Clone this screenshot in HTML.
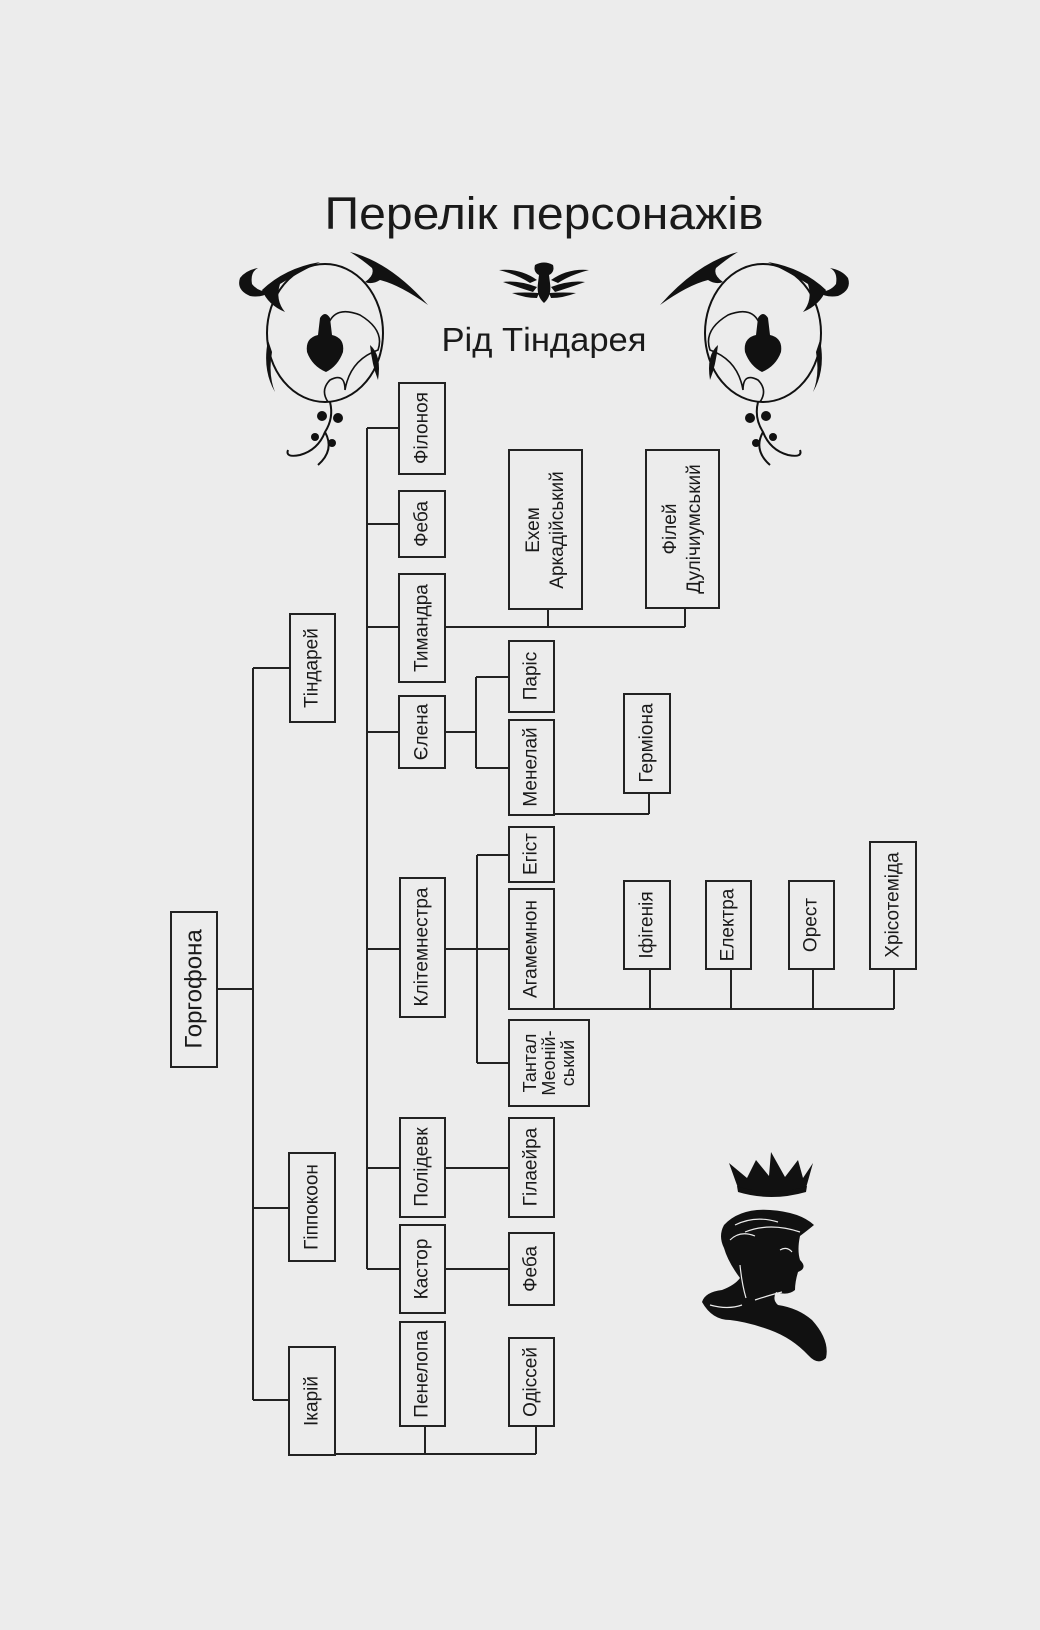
<!DOCTYPE html>
<html><head><meta charset="utf-8"><style>
html,body{margin:0;padding:0;background:#ececec;}
svg{display:block}
text{font-family:"Liberation Sans",sans-serif;fill:#1a1a1a}
</style></head><body>
<svg width="1040" height="1630" viewBox="0 0 1040 1630" xmlns="http://www.w3.org/2000/svg">
<rect width="1040" height="1630" fill="#ececec"/>
<text x="544" y="229" font-size="45" text-anchor="middle" textLength="439" lengthAdjust="spacingAndGlyphs">Перелік персонажів</text>
<text x="544" y="351" font-size="33" text-anchor="middle" textLength="205" lengthAdjust="spacingAndGlyphs">Рід Тіндарея</text>

<!-- center ornament -->
<g fill="#111">
<path d="M535 265 Q544 260 553 265 Q555 272 549 275 L550 283 Q552 296 544 303 Q536 296 538 283 L539 275 Q533 272 535 265Z"/>
<path d="M537 280 Q520 268 499 270 Q518 275 530 283Z M537 287 Q518 280 503 282 Q520 288 533 292Z M539 293 Q524 292 512 293 Q525 298 537 298Z"/>
<path d="M551 280 Q568 268 589 270 Q570 275 558 283Z M551 287 Q570 280 585 282 Q568 288 555 292Z M549 293 Q564 292 576 293 Q563 298 551 298Z"/>
</g>

<!-- left ornament -->
<g id="orn">
<ellipse cx="325" cy="333" rx="58" ry="69" fill="none" stroke="#111" stroke-width="2"/>
<path d="M328 402 Q320 390 330 380 Q345 372 345 390 Q350 360 378 350 Q385 330 360 315 Q335 305 328 325" fill="none" stroke="#111" stroke-width="1.6"/>
<g fill="#111">
<path d="M320 318 Q325 310 330 318 L332 335 Q345 338 343 352 Q338 366 326 372 Q312 366 307 352 Q305 338 318 335Z"/>
<path d="M240 278 Q236 290 250 296 Q262 298 270 292 Q258 292 252 284 Q250 272 258 268 Q246 270 240 278Z"/>
<path d="M262 290 Q285 268 320 262 Q300 272 280 284 Q275 300 285 312 Q268 305 262 290Z"/>
<path d="M350 252 Q390 262 428 305 Q400 285 380 280 Q372 285 365 282 Q375 275 372 268 Q360 258 350 252Z"/>
<path d="M268 340 Q262 370 275 392 Q268 375 272 352Z"/>
<path d="M370 345 Q382 355 378 380 Q372 365 370 345Z"/>
<circle cx="322" cy="416" r="5"/><circle cx="338" cy="418" r="5"/><circle cx="315" cy="437" r="4"/><circle cx="332" cy="443" r="4"/>
</g>
<path d="M330 402 Q334 418 325 432 Q318 450 300 455 Q285 458 288 450 M325 432 Q335 450 318 465" fill="none" stroke="#111" stroke-width="2"/>
</g>
<use href="#orn" transform="translate(1088 0) scale(-1 1)"/>

<!-- connectors -->
<g stroke="#222" stroke-width="2" fill="none">
<path d="M217 989 H253 M253 668 V1400 M253 668 H290 M253 1208 H289 M253 1400 H289"/>
<path d="M335 1454 H536 M425 1426 V1454 M536 1426 V1454"/>
<path d="M367 428 V1269 M367 428 H399 M367 524 H399 M367 627 H399 M367 732 H399 M367 949 H400 M367 1168 H400 M367 1269 H400"/>
<path d="M445 627 H685 M548 609 V627 M685 608 V627"/>
<path d="M445 732 H476 M476 677 V768 M476 677 H509 M476 768 H509 M554 814 H649 M649 793 V814"/>
<path d="M445 949 H509 M477 855 V1063 M477 855 H509 M477 1063 H509"/>
<path d="M554 1009 H894 M650 969 V1009 M731 969 V1009 M813 969 V1009 M894 969 V1009"/>
<path d="M445 1168 H509 M445 1269 H509"/>
</g>

<!-- boxes -->
<g stroke="#222" stroke-width="2" fill="none">
<rect x="171" y="912" width="46" height="155"/>
<rect x="290" y="614" width="45" height="108"/>
<rect x="289" y="1153" width="46" height="108"/>
<rect x="289" y="1347" width="46" height="108"/>
<rect x="399" y="383" width="46" height="91"/>
<rect x="399" y="491" width="46" height="66"/>
<rect x="399" y="574" width="46" height="108"/>
<rect x="399" y="696" width="46" height="72"/>
<rect x="400" y="878" width="45" height="139"/>
<rect x="400" y="1118" width="45" height="99"/>
<rect x="400" y="1225" width="45" height="88"/>
<rect x="400" y="1322" width="45" height="104"/>
<rect x="509" y="450" width="73" height="159"/>
<rect x="646" y="450" width="73" height="158"/>
<rect x="509" y="641" width="45" height="71"/>
<rect x="509" y="720" width="45" height="95"/>
<rect x="624" y="694" width="46" height="99"/>
<rect x="509" y="827" width="45" height="55"/>
<rect x="509" y="889" width="45" height="120"/>
<rect x="509" y="1020" width="80" height="86"/>
<rect x="624" y="881" width="46" height="88"/>
<rect x="706" y="881" width="45" height="88"/>
<rect x="789" y="881" width="45" height="88"/>
<rect x="870" y="842" width="46" height="127"/>
<rect x="509" y="1118" width="45" height="99"/>
<rect x="509" y="1233" width="45" height="72"/>
<rect x="509" y="1338" width="45" height="88"/>
</g>

<!-- labels (rotated) -->
<g font-size="19" text-anchor="middle" dominant-baseline="central">
<text transform="translate(194 989) rotate(-90)" font-size="24">Горгофона</text>
<text transform="translate(312 668) rotate(-90)">Тіндарей</text>
<text transform="translate(312 1207) rotate(-90)">Гіппокоон</text>
<text transform="translate(312 1401) rotate(-90)">Ікарій</text>
<text transform="translate(422 428) rotate(-90)">Філоноя</text>
<text transform="translate(422 524) rotate(-90)">Феба</text>
<text transform="translate(422 628) rotate(-90)">Тимандра</text>
<text transform="translate(422 732) rotate(-90)">Єлена</text>
<text transform="translate(422 947) rotate(-90)">Клітемнестра</text>
<text transform="translate(422 1167) rotate(-90)">Полідевк</text>
<text transform="translate(422 1269) rotate(-90)">Кастор</text>
<text transform="translate(422 1374) rotate(-90)">Пенелопа</text>
<text transform="translate(545 530) rotate(-90)"><tspan x="0" y="-12">Ехем</tspan><tspan x="0" y="12">Аркадійський</tspan></text>
<text transform="translate(682 529) rotate(-90)"><tspan x="0" y="-12">Філей</tspan><tspan x="0" y="12">Дулічиумський</tspan></text>
<text transform="translate(531 676) rotate(-90)">Паріс</text>
<text transform="translate(531 767) rotate(-90)">Менелай</text>
<text transform="translate(647 743) rotate(-90)">Герміона</text>
<text transform="translate(531 854) rotate(-90)">Егіст</text>
<text transform="translate(531 949) rotate(-90)">Агамемнон</text>
<text transform="translate(549 1063) rotate(-90)" font-size="18"><tspan x="0" y="-19">Тантал</tspan><tspan x="0" y="0">Меоній-</tspan><tspan x="0" y="19">ський</tspan></text>
<text transform="translate(647 925) rotate(-90)">Іфігенія</text>
<text transform="translate(728 925) rotate(-90)">Електра</text>
<text transform="translate(811 925) rotate(-90)">Орест</text>
<text transform="translate(893 905) rotate(-90)">Хрісотеміда</text>
<text transform="translate(531 1167) rotate(-90)">Гілаейра</text>
<text transform="translate(531 1269) rotate(-90)">Феба</text>
<text transform="translate(531 1382) rotate(-90)">Одіссей</text>
</g>

<!-- crown -->
<g fill="#111">
<path d="M729 1163 L747 1178 L756 1160 L769 1176 L771 1152 L785 1177 L798 1160 L803 1178 L813 1163 L806 1188 Q771 1200 738 1188Z"/>
<path d="M737 1186 Q771 1198 807 1186 L806 1192 Q771 1202 738 1192Z"/>
</g>
<!-- bust -->
<g fill="#111">
<path d="M724 1225 Q740 1208 770 1210 Q800 1212 814 1225 Q808 1230 800 1236 Q797 1250 800 1260 Q808 1268 798 1272 Q795 1282 795 1290 Q788 1296 776 1292 Q772 1300 778 1305 Q798 1308 812 1320 Q830 1340 826 1358 Q818 1366 808 1355 Q792 1338 770 1330 Q748 1322 730 1320 Q712 1320 702 1302 Q705 1292 722 1290 Q735 1285 740 1278 Q728 1262 724 1248 Q718 1236 724 1225Z"/>
</g>
<g fill="none" stroke="#ececec" stroke-width="1.2">
<path d="M735 1225 Q755 1215 778 1222 M745 1232 Q770 1222 800 1232 M730 1240 Q740 1230 755 1236"/>
<path d="M780 1250 Q787 1246 792 1252"/>
<path d="M740 1265 Q742 1285 746 1298 M710 1305 Q728 1310 742 1305 M755 1300 Q770 1295 782 1292"/>
</g>
</svg>
</body></html>
